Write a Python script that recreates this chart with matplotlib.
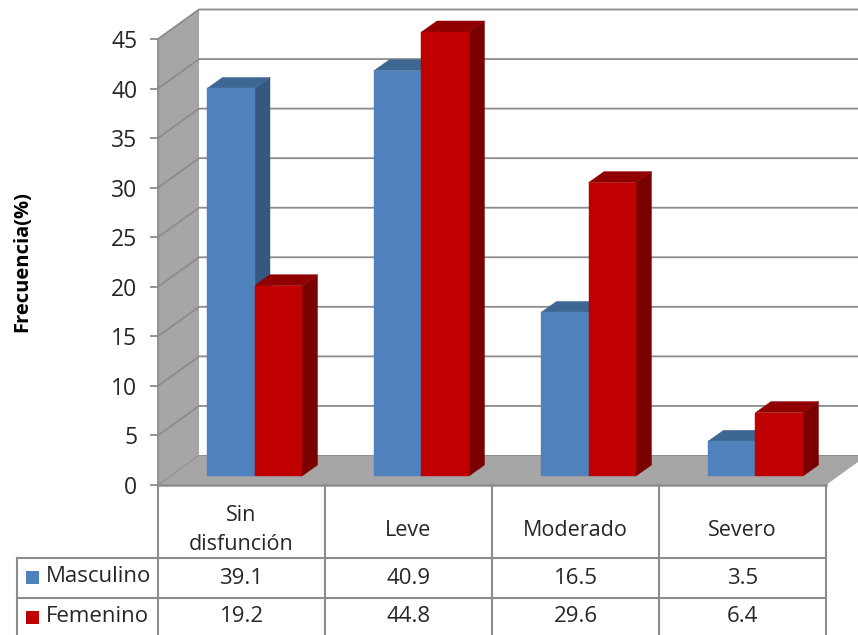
import matplotlib
matplotlib.use("Agg")
import matplotlib.pyplot as plt
from matplotlib.patches import Polygon, Rectangle

categories = ["Sin\ndisfunción", "Leve", "Moderado", "Severo"]
masculino = [39.1, 40.9, 16.5, 3.5]
femenino = [19.2, 44.8, 29.6, 6.4]
y_ticks = [0, 5, 10, 15, 20, 25, 30, 35, 40, 45]

WIDTH, HEIGHT = 858, 635
LEFT, RIGHT, BOTTOM, TOP = 158, 826, 485, 39
CAT_W = (RIGHT - LEFT) / len(categories)
UNIT_H = (BOTTOM - TOP) / 45

LINE = "#8C8C8C"
WALL = "#A6A6A6"
TEXT = "#262626"
BLUE = ("#4F81BD", "#3E6692", "#355780")
RED = ("#C00000", "#900000", "#7A0000")

# wall depth and bar depth, in axis units
WALL_DX, WALL_DY = 41 / CAT_W, 29.5 / UNIT_H
BAR_DX, BAR_DY = 15.5 / CAT_W, 11 / UNIT_H
BAR_W = 47.5 / CAT_W
BAR_START = 49 / CAT_W
BAR_BASE = 9 / UNIT_H


def row_y(px):
    # table rows are laid out below the axis, measured in pixels
    return (BOTTOM - px) / UNIT_H


def draw_bar(ax, x, value, colors):
    front, top, side = colors
    y0, y1 = BAR_BASE, BAR_BASE + value
    ax.add_patch(Polygon([(x + BAR_W, y0), (x + BAR_W + BAR_DX, y0 + BAR_DY),
                          (x + BAR_W + BAR_DX, y1 + BAR_DY), (x + BAR_W, y1)],
                         fc=side, ec=side, lw=0.3, clip_on=False, zorder=4))
    ax.add_patch(Polygon([(x, y1), (x + BAR_DX, y1 + BAR_DY),
                          (x + BAR_W + BAR_DX, y1 + BAR_DY), (x + BAR_W, y1)],
                         fc=top, ec=top, lw=0.3, clip_on=False, zorder=4))
    ax.add_patch(Rectangle((x, y0), BAR_W, value, fc=front, ec=front, lw=0.3,
                           clip_on=False, zorder=5))


plt.rcParams["font.family"] = ["Open Sans", "DejaVu Sans"]
fig = plt.figure(figsize=(WIDTH / 100, HEIGHT / 100), dpi=100)
ax = fig.add_axes([LEFT / WIDTH, 1 - BOTTOM / HEIGHT,
                   (RIGHT - LEFT) / WIDTH, (BOTTOM - TOP) / HEIGHT])
ax.set_xlim(0, len(categories))
ax.set_ylim(0, 45)
ax.patch.set_visible(False)
for spine in ax.spines.values():
    spine.set_visible(False)

# side wall and floor
n = len(categories)
ax.add_patch(Polygon([(0, 0), (WALL_DX, WALL_DY), (WALL_DX, 45 + WALL_DY), (0, 45)],
                     fc=WALL, ec="none", clip_on=False, zorder=1))
ax.add_patch(Polygon([(0, 0), (n, 0), (n + WALL_DX, WALL_DY), (WALL_DX, WALL_DY)],
                     fc=WALL, ec="none", clip_on=False, zorder=1))

# gridlines run across the side wall and the back wall
for v in y_ticks:
    ax.plot([0, WALL_DX, n + WALL_DX], [v, v + WALL_DY, v + WALL_DY], color=LINE,
            lw=1.3 if v else 0.7, clip_on=False, zorder=2, solid_joinstyle="miter")
ax.plot([0, 0], [0, 45], color=LINE, lw=1.3, clip_on=False, zorder=3)

for i in range(n):
    x = i + BAR_START
    draw_bar(ax, x, masculino[i], BLUE)
    draw_bar(ax, x + BAR_W, femenino[i], RED)

ax.set_yticks(y_ticks)
ax.set_xticks([])
ax.tick_params(axis="y", length=6, width=1.3, color=LINE, labelsize=16.5,
               labelcolor=TEXT, pad=9)
ax.text(-136 / CAT_W, 22.5, "Frecuencia(%)", rotation=90, ha="center", va="center",
        fontsize=14.5, fontweight="bold", color="black", clip_on=False)

# data table
left_col = -141 / CAT_W
header_y, row1_y = row_y(558), row_y(598)
ax.plot([0, n], [0, 0], color=LINE, lw=1.8, clip_on=False, zorder=3)
for i in range(n + 1):
    ax.plot([i, i], [0, row_y(640)], color=LINE, lw=1.5, clip_on=False, zorder=3)
ax.plot([left_col, left_col], [header_y, row_y(640)], color=LINE, lw=1.5, clip_on=False)
for y in (header_y, row1_y):
    ax.plot([left_col, n], [y, y], color=LINE, lw=1.5, clip_on=False)

for i in range(n):
    ax.text(i + 0.5, row_y(530), categories[i], ha="center", va="center", fontsize=15.5,
            color=TEXT, linespacing=1.45)
    ax.text(i + 0.5, row_y(578), f"{masculino[i]}", ha="center", va="center",
            fontsize=16, color=TEXT)
    ax.text(i + 0.5, row_y(617), f"{femenino[i]}", ha="center", va="center",
            fontsize=16, color=TEXT)

# legend keys sit in the first column of the table
key_x = -132 / CAT_W
key_w, key_h = 13 / CAT_W, 13 / UNIT_H
for name, color, py in (("Masculino", BLUE[0], 577), ("Femenino", RED[0], 617)):
    ax.add_patch(Rectangle((key_x, row_y(py + 6.5)), key_w, key_h, fc=color, ec="none",
                           clip_on=False))
    ax.text(-112 / CAT_W, row_y(py), name, ha="left", va="center", fontsize=16,
            color=TEXT)

fig.savefig("out.png", dpi=100)
